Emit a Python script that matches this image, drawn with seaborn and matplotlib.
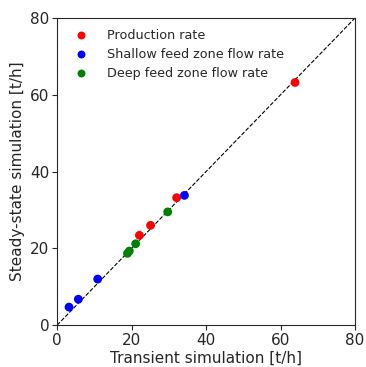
import pandas as pd
import numpy as np
import matplotlib
matplotlib.use("Agg")
import matplotlib.pyplot as plt
import seaborn as sns

sns.set_style("ticks")
plt.rcParams["font.family"] = ["DejaVu Sans"]

# data
prod_transient = [63.9, 32.1, 25.1, 22.1]
prod_steady = [63.2, 33.2, 26.0, 23.4]
shallow_transient = [34.2, 10.9, 5.7, 3.2]
shallow_steady = [33.8, 12.0, 6.75, 4.7]
deep_transient = [29.7, 21.1, 19.4, 18.9]
deep_steady = [29.5, 21.2, 19.3, 18.7]

labels = ["Production rate", "Shallow feed zone flow rate", "Deep feed zone flow rate"]
colors = ["red", "blue", "green"]

df = pd.DataFrame({
    "Transient": prod_transient + shallow_transient + deep_transient,
    "Steady": prod_steady + shallow_steady + deep_steady,
    "Kind": [labels[0]] * len(prod_transient) + [labels[1]] * len(shallow_transient) + [labels[2]] * len(deep_transient),
})

fig = plt.figure(figsize=(3.66, 3.67), dpi=100)
ax = fig.add_axes([0.156, 0.114, 0.814, 0.837])

ax.plot([0, 80], [0, 80], color="black", linestyle="--", linewidth=0.8, zorder=1)

sns.scatterplot(
    data=df, x="Transient", y="Steady", hue="Kind",
    palette=dict(zip(labels, colors)), s=40, edgecolor="none",
    ax=ax, zorder=2
)

ax.set_xlim(0, 80)
ax.set_ylim(0, 80)
ax.set_xticks([0, 20, 40, 60, 80])
ax.set_yticks([0, 20, 40, 60, 80])
ax.tick_params(labelsize=11, length=3.5, width=0.8, pad=2, color="#262626")
ax.set_xlabel("Transient simulation [t/h]", fontsize=11, labelpad=2)
ax.set_ylabel("Steady-state simulation [t/h]", fontsize=11, labelpad=4)
for sp in ax.spines.values():
    sp.set_visible(True)
    sp.set_linewidth(0.8)

ax.legend(loc="upper left", frameon=False, fontsize=9.2, title=None,
          handletextpad=1.0, borderaxespad=0.5, markerscale=0.9,
          labelspacing=0.45)

plt.savefig("out.png", dpi=100)
